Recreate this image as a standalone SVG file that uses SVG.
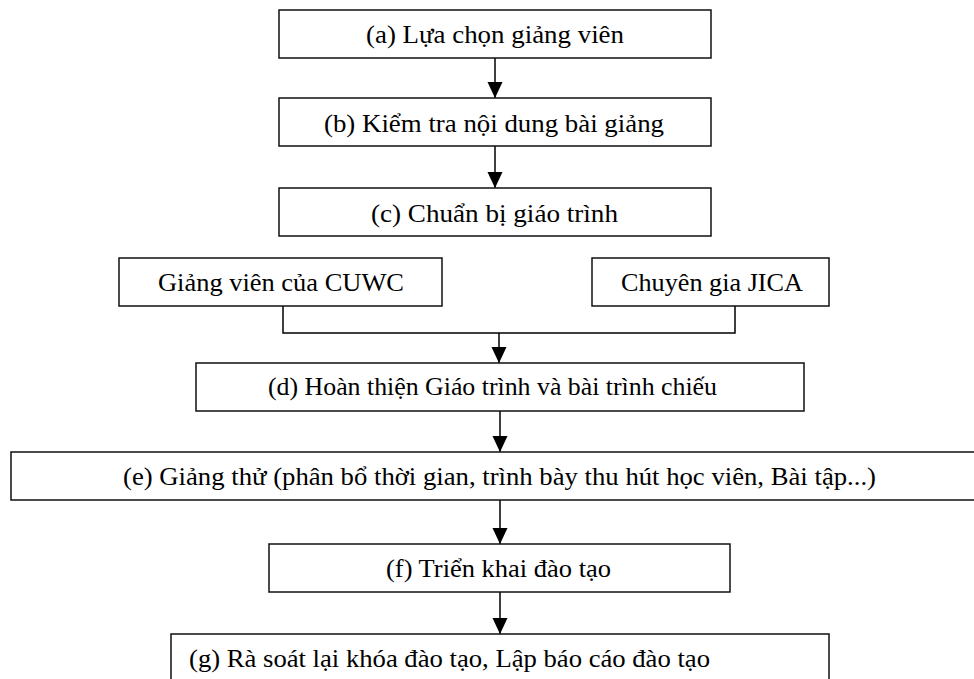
<svg xmlns="http://www.w3.org/2000/svg" width="974" height="679" viewBox="0 0 974 679">
<defs>
<style>
.box{fill:#fff;stroke:#111;stroke-width:1.5}
.lbl{font-family:"Liberation Serif","Times New Roman",serif;font-size:25px;fill:#000}
.cn{fill:none;stroke:#000;stroke-width:1.5}
</style>
<marker id="ah" viewBox="0 0 15 16" refX="16" refY="7.5" markerWidth="15" markerHeight="16" markerUnits="userSpaceOnUse" orient="auto">
<path d="M0,0 L16,7.5 L0,15 Z" fill="#000"/>
</marker>
</defs>
<rect width="974" height="679" fill="#fff"/>
<g id="connectors">
<line class="cn" x1="495" y1="58" x2="495" y2="98" marker-end="url(#ah)"/>
<line class="cn" x1="495" y1="146" x2="495" y2="188" marker-end="url(#ah)"/>
<polyline class="cn" points="283,306 283,333 735,333 735,306"/>
<line class="cn" x1="499" y1="333" x2="499" y2="363" marker-end="url(#ah)"/>
<line class="cn" x1="500" y1="411" x2="500" y2="452" marker-end="url(#ah)"/>
<line class="cn" x1="500" y1="500" x2="500" y2="544" marker-end="url(#ah)"/>
<line class="cn" x1="500" y1="592" x2="500" y2="634" marker-end="url(#ah)"/>
</g>
<g id="node-a"><rect class="box" x="279" y="10" width="432" height="48"/><text class="lbl" x="366" y="43" textLength="258" lengthAdjust="spacingAndGlyphs">(a) Lựa chọn giảng viên</text></g>
<g id="node-b"><rect class="box" x="279" y="98" width="432" height="48"/><text class="lbl" x="324" y="132" textLength="340" lengthAdjust="spacingAndGlyphs">(b) Kiểm tra nội dung bài giảng</text></g>
<g id="node-c"><rect class="box" x="279" y="188" width="432" height="48"/><text class="lbl" x="371" y="222" textLength="247" lengthAdjust="spacingAndGlyphs">(c) Chuẩn bị giáo trình</text></g>
<g id="node-cuwc"><rect class="box" x="119" y="258" width="323" height="48"/><text class="lbl" x="158" y="291" textLength="246" lengthAdjust="spacingAndGlyphs">Giảng viên của CUWC</text></g>
<g id="node-jica"><rect class="box" x="592" y="258" width="237" height="48"/><text class="lbl" x="621" y="291" textLength="182" lengthAdjust="spacingAndGlyphs">Chuyên gia JICA</text></g>
<g id="node-d"><rect class="box" x="196" y="363" width="608" height="48"/><text class="lbl" x="268" y="395" textLength="449" lengthAdjust="spacingAndGlyphs">(d) Hoàn thiện Giáo trình và bài trình chiếu</text></g>
<g id="node-e"><rect class="box" x="11" y="452" width="980" height="48"/><text class="lbl" x="123" y="485" textLength="753" lengthAdjust="spacingAndGlyphs">(e) Giảng thử (phân bổ thời gian, trình bày thu hút học viên, Bài tập...)</text></g>
<g id="node-f"><rect class="box" x="269" y="544" width="461" height="48"/><text class="lbl" x="386" y="577" textLength="225" lengthAdjust="spacingAndGlyphs">(f) Triển khai đào tạo</text></g>
<g id="node-g"><rect class="box" x="171" y="634" width="658" height="50"/><text class="lbl" x="189" y="667" textLength="521" lengthAdjust="spacingAndGlyphs">(g) Rà soát lại khóa đào tạo, Lập báo cáo đào tạo</text></g>
</svg>
